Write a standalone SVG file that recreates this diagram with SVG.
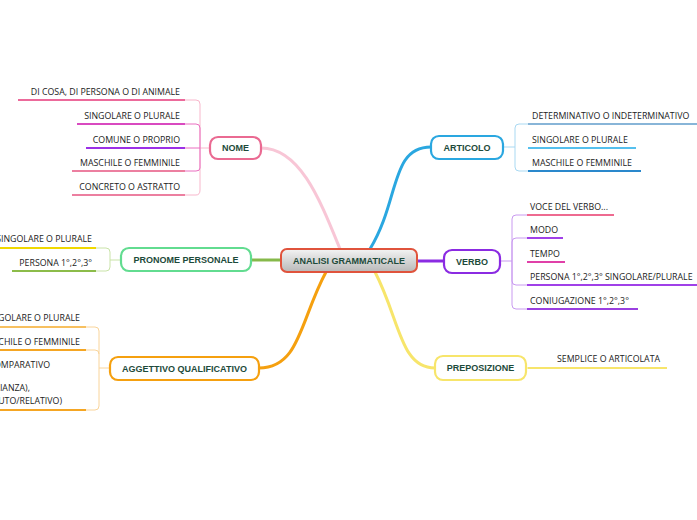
<svg xmlns="http://www.w3.org/2000/svg" width="697" height="520" viewBox="0 0 697 520">
<defs><linearGradient id="g" x1="0" y1="0" x2="0" y2="1"><stop offset="0" stop-color="#f4f4f4"/><stop offset="1" stop-color="#b8b8b8"/></linearGradient></defs>
<style>
.n{fill:#fff;stroke-width:2.2}
.t{font-family:"Liberation Sans",Arial,sans-serif;font-weight:bold;font-size:9px;fill:#1d4a3a;text-anchor:middle}
.l{font-family:"Open Sans","DejaVu Sans",sans-serif;font-size:8.8px;fill:#222}
.r{text-anchor:end}
.c{fill:none;stroke-width:3}
.b{fill:none;stroke-width:1}
.u{stroke-width:2}
</style>
<rect width="697" height="520" fill="#fff"/>
<g id="connectors">
<path class="c" d="M340 249 C320 200 300 148 261 148" stroke="#f8c6d6"/>
<path class="c" d="M281 260 H251" stroke="#86b94a"/>
<path class="c" d="M326 272 C300 320 300 368 259 368" stroke="#f5a00f"/>
<path class="c" d="M370 249 C400 200 390 147 431 147" stroke="#2aa7e0"/>
<path class="c" d="M417 261 H444" stroke="#8b2be2"/>
<path class="c" d="M375 272 C400 320 400 368 435 368" stroke="#f7e56b"/>
<path class="b" stroke="#f8b7cc" d="M210 148 H200 M185 100 H196 Q200 100 200 104 V190 Q200 195 196 195 H185"/>
<path class="b" stroke="#ea6fc0" d="M185 124 H196 Q200 124 200 128 V168 Q200 171 196 171 H185 M185 148 H200"/>
<line class="u" x1="18" y1="100" x2="185" y2="100" stroke="#ec6a9b"/>
<line class="u" x1="77" y1="124" x2="185" y2="124" stroke="#d94ac0"/>
<line class="u" x1="86" y1="148" x2="185" y2="148" stroke="#9b30e6"/>
<line class="u" x1="72" y1="171" x2="185" y2="171" stroke="#ec7fa0"/>
<line class="u" x1="72" y1="195" x2="185" y2="195" stroke="#ec7fa0"/>
<path class="b" stroke="#c9e3a8" d="M121 260 H110 M96 248 H106 Q110 248 110 252 V267 Q110 271 106 271 H96"/>
<line class="u" x1="0" y1="248" x2="96" y2="248" stroke="#f0d800"/>
<line class="u" x1="12" y1="271" x2="96" y2="271" stroke="#8cbc4a"/>
<path class="b" stroke="#f9d49a" d="M110 368 H99 M86 327 H95 Q99 327 99 331 V406 Q99 410 95 410 H86 M86 350 H95 Q99 350 99 354"/>
<line class="u" x1="0" y1="327" x2="86" y2="327" stroke="#f7c060"/>
<line class="u" x1="0" y1="350" x2="86" y2="350" stroke="#f5a623"/>
<line class="u" x1="0" y1="410" x2="86" y2="410" stroke="#f5a623"/>
<path class="b" stroke="#a9d9f2" d="M503 147 H515 M528 124 H519 Q515 124 515 128 V167 Q515 171 519 171 H528"/>
<line class="u" x1="528" y1="124" x2="697" y2="124" stroke="#88b5d8"/>
<line class="u" x1="528" y1="148" x2="636" y2="148" stroke="#55c0ee"/>
<line class="u" x1="528" y1="171" x2="641" y2="171" stroke="#2a88cc"/>
<path class="b" stroke="#c99af0" d="M500 261 H512 M527 215 H516 Q512 215 512 219 V305 Q512 309 516 309 H527 M527 238 H516 Q512 238 512 242 V281 Q512 285 516 285 H527"/>
<line class="u" x1="527" y1="215" x2="614" y2="215" stroke="#ee6a90"/>
<line class="u" x1="527" y1="238" x2="563" y2="238" stroke="#a040e8"/>
<line class="u" x1="527" y1="262" x2="565" y2="262" stroke="#e040a8"/>
<line class="u" x1="527" y1="285" x2="697" y2="285" stroke="#a040e8"/>
<line class="u" x1="527" y1="309" x2="638" y2="309" stroke="#9a40e0"/>
<path class="b" stroke="#f7e56b" d="M526 368 H528"/>
<line class="u" x1="528" y1="368" x2="667" y2="368" stroke="#f7e56b"/>
</g>
<g id="leaves">
<text class="l r" x="180" y="95">DI COSA, DI PERSONA O DI ANIMALE</text>
<text class="l r" x="180" y="119">SINGOLARE O PLURALE</text>
<text class="l r" x="180" y="143">COMUNE O PROPRIO</text>
<text class="l r" x="180" y="166">MASCHILE O FEMMINILE</text>
<text class="l r" x="180" y="190">CONCRETO O ASTRATTO</text>
<text class="l r" x="92" y="242">SINGOLARE O PLURALE</text>
<text class="l r" x="92" y="266">PERSONA 1°,2°,3°</text>
<text class="l r" x="80" y="321">SINGOLARE O PLURALE</text>
<text class="l r" x="80" y="345">MASCHILE O FEMMINILE</text>
<text class="l r" x="50" y="368">COMPARATIVO</text>
<text class="l r" x="30" y="391">(UGUAGLIANZA),</text>
<text class="l r" x="62" y="404">(ASSOLUTO/RELATIVO)</text>
<text class="l" x="532" y="119">DETERMINATIVO O INDETERMINATIVO</text>
<text class="l" x="532" y="143">SINGOLARE O PLURALE</text>
<text class="l" x="532" y="166">MASCHILE O FEMMINILE</text>
<text class="l" x="530" y="210">VOCE DEL VERBO...</text>
<text class="l" x="530" y="233">MODO</text>
<text class="l" x="530" y="257">TEMPO</text>
<text class="l" x="530" y="280">PERSONA 1°,2°,3° SINGOLARE/PLURALE</text>
<text class="l" x="530" y="304">CONIUGAZIONE 1°,2°,3°</text>
<text class="l" x="557" y="362">SEMPLICE O ARTICOLATA</text>
</g>
<g id="center"><rect x="281" y="249" width="136" height="23" rx="6" fill="url(#g)" stroke="#e0533c" stroke-width="2"/><text class="t" x="349" y="264">ANALISI GRAMMATICALE</text></g>
<g id="nome"><rect class="n" x="210" y="137" width="51" height="22" rx="8" stroke="#ea6a92"/><text class="t" x="235.5" y="151">NOME</text></g>
<g id="pronome"><rect class="n" x="121" y="248" width="130" height="23" rx="8" stroke="#62dc90"/><text class="t" x="186" y="263">PRONOME PERSONALE</text></g>
<g id="aggettivo"><rect class="n" x="110" y="357" width="149" height="23" rx="8" stroke="#f5a00f"/><text class="t" x="184.5" y="372">AGGETTIVO QUALIFICATIVO</text></g>
<g id="articolo"><rect class="n" x="431" y="136" width="72" height="23" rx="8" stroke="#2aa7e0"/><text class="t" x="467" y="151">ARTICOLO</text></g>
<g id="verbo"><rect class="n" x="444" y="250" width="56" height="23" rx="8" stroke="#8b2be2"/><text class="t" x="472" y="265">VERBO</text></g>
<g id="preposizione"><rect class="n" x="435" y="356" width="91" height="24" rx="8" stroke="#f7e56b"/><text class="t" x="480.5" y="371">PREPOSIZIONE</text></g>
</svg>
